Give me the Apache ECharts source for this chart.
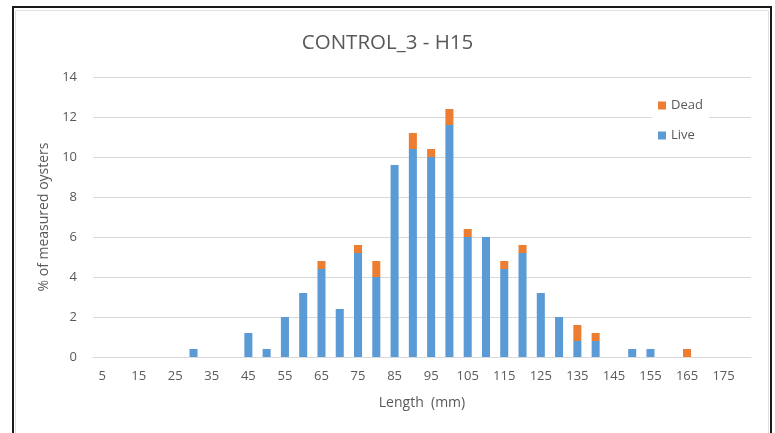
<!DOCTYPE html>
<html>
<head>
<meta charset="utf-8">
<script src="https://cdn.jsdelivr.net/npm/echarts@6/dist/echarts.min.js"></script>
<style>html,body{margin:0;padding:0;background:#fff;}#c{width:775px;height:433px;}</style>
</head>
<body>
<div id="c"></div>
<script>
const categories = ['5','10','15','20','25','30','35','40','45','50','55','60','65','70','75','80','85','90','95','100','105','110','115','120','125','130','135','140','145','150','155','160','165','170','175','180'];
const liveValues = [0,0,0,0,0,0.4,0,0,1.2,0.4,2.0,3.2,4.4,2.4,5.2,4.0,9.6,10.4,10.0,11.6,6.0,6.0,4.4,5.2,3.2,2.0,0.8,0.8,0,0.4,0.4,0,0,0,0,0];
const deadValues = [0,0,0,0,0,0,0,0,0,0,0,0,0.4,0,0.4,0.8,0,0.8,0.4,0.8,0.4,0,0.4,0.4,0,0,0.8,0.4,0,0,0,0,0.4,0,0,0];
const yTicks = [0,2,4,6,8,10,12,14];

const FONT = 'Open Sans';
const TXT = '#595959';
const chart = echarts.init(document.getElementById('c'));
chart.setOption({
  animation: false,
  backgroundColor: '#fff',
  textStyle: { fontFamily: FONT },
  title: {
    text: 'CONTROL_3 - H15',
    left: 'center',
    top: 28,
    textStyle: { fontFamily: FONT, fontSize: 20.5, fontWeight: 'normal', color: TXT }
  },
  legend: {
    data: ['Dead', 'Live'],
    orient: 'vertical',
    left: 652,
    top: 95,
    itemWidth: 8,
    itemHeight: 8,
    itemGap: 17,
    icon: 'rect',
    backgroundColor: '#fff',
    padding: [4, 6, 4, 6],
    textStyle: { fontFamily: FONT, fontSize: 13, color: TXT }
  },
  grid: { left: 93, right: 24, top: 77, bottom: 76, containLabel: false },
  xAxis: {
    type: 'category',
    data: categories,
    name: 'Length  (mm)',
    nameLocation: 'middle',
    nameGap: 39,
    nameTextStyle: { fontFamily: FONT, fontSize: 14, color: TXT },
    axisLine: { lineStyle: { color: '#D9D9D9' } },
    axisTick: { show: false },
    axisLabel: { interval: 1, margin: 13, fontFamily: FONT, fontSize: 13, color: TXT }
  },
  yAxis: {
    type: 'value',
    min: yTicks[0],
    max: yTicks[yTicks.length - 1],
    interval: 2,
    name: '% of measured oysters',
    nameLocation: 'middle',
    nameGap: 39,
    nameTextStyle: { fontFamily: FONT, fontSize: 14, color: TXT },
    axisLine: { show: false },
    axisTick: { show: false },
    axisLabel: { margin: 16, fontFamily: FONT, fontSize: 13, color: TXT },
    splitLine: { lineStyle: { color: '#D9D9D9' } }
  },
  series: [
    { name: 'Live', type: 'bar', stack: 'a', data: liveValues, barWidth: '44%', itemStyle: { color: '#5B9BD5' } },
    { name: 'Dead', type: 'bar', stack: 'a', data: deadValues, barWidth: '44%', itemStyle: { color: '#ED7D31' } }
  ],
  graphic: [
    { type: 'rect', shape: { x: 15.5, y: 10.5, width: 753, height: 440 }, style: { fill: 'none', stroke: '#E0E0E0', lineWidth: 1 }, silent: true },
    { type: 'rect', shape: { x: 13, y: 7, width: 758, height: 440 }, style: { fill: 'none', stroke: '#1a1a1a', lineWidth: 2 }, silent: true }
  ]
});
</script>
</body>
</html>
